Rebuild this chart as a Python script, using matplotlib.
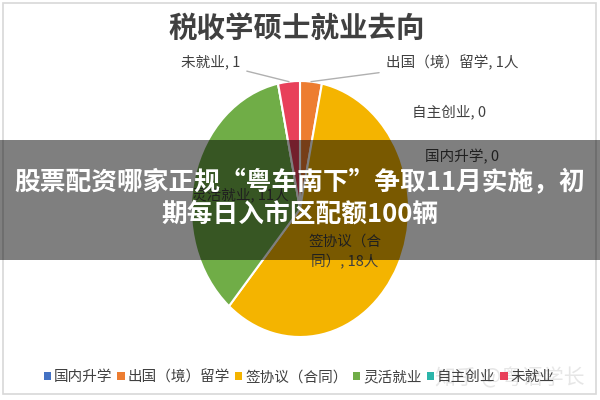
import numpy as np
import matplotlib
matplotlib.use('Agg')
import matplotlib.pyplot as plt
from matplotlib.patches import Patch, Rectangle

plt.rcParams['font.family'] = ['Noto Sans CJK SC', 'DejaVu Sans']

# data
categories = ['国内升学', '出国（境）留学', '签协议（合同）', '灵活就业', '自主创业', '未就业']
counts = [0, 1, 18, 11, 0, 1]
colors = ['#4472C4', '#ED7D31', '#F4B400', '#70AD47', '#2BB5AA', '#E8405A']
title = '税收学硕士就业去向'
banner = ['股票配资哪家正规“粤车南下”争取11月实施，初', '期每日入市区配额100辆']
watermark = '知乎 @粤语学长'

W, H = 600, 400
fig = plt.figure(figsize=(6, 4), dpi=100)
fig.patch.set_facecolor('white')

def fx(px):
    return px / W

def fy(py):
    return 1 - py / H

# pie axes, squeezed so the pie is an ellipse like the reference
ax = fig.add_axes([fx(191), fy(337), fx(218), 256 / H])
wedges, _ = ax.pie(counts, colors=colors, startangle=90, counterclock=False,
                   radius=1, wedgeprops=dict(edgecolor='white', linewidth=1.5))
ax.set_xlim(-1, 1)
ax.set_ylim(-1, 1)
ax.set_aspect('auto')
ax.axis('off')

tc = '#404040'
fig.text(fx(297), fy(30), title, ha='center', va='center', fontsize=20.5,
         fontweight='bold', color=tc)

# angles of wedge centres for leader lines
total = sum(counts)
cum = np.cumsum([0] + counts)
mid = [90 - (cum[i] + counts[i] / 2) / total * 360 for i in range(len(counts))]

def edge_pt(i):
    a = np.radians(mid[i])
    return (np.cos(a), np.sin(a))

lab_kw = dict(fontsize=10.5, color=tc)
ax.annotate('未就业, 1', xy=edge_pt(5), xycoords='data',
            xytext=(fx(240), fy(62)), textcoords='figure fraction',
            ha='right', va='center', annotation_clip=False,
            arrowprops=dict(arrowstyle='-', color='#b0b0b0', lw=1,
                            shrinkA=3, shrinkB=0), **lab_kw)
ax.annotate('出国（境）留学, 1人', xy=edge_pt(1), xycoords='data',
            xytext=(fx(386), fy(63)), textcoords='figure fraction',
            ha='left', va='center', annotation_clip=False,
            arrowprops=dict(arrowstyle='-', color='#b0b0b0', lw=1,
                            shrinkA=3, shrinkB=0), **lab_kw)
fig.text(fx(412), fy(112), '自主创业, 0', ha='left', va='center', **lab_kw)
fig.text(fx(425), fy(157), '国内升学, 0', ha='left', va='center', **lab_kw)
fig.text(fx(240), fy(195), '灵活就业, 11人', ha='center', va='center', **lab_kw)
fig.text(fx(345), fy(252), '签协议（合\n同）, 18人', ha='center', va='center',
         linespacing=1.5, **lab_kw)

# legend
handles = [Patch(facecolor=c, edgecolor='none') for c in colors]
fig.legend(handles, categories, loc='center', bbox_to_anchor=(fx(299), fy(377)),
           ncol=6, frameon=False, fontsize=10.5, handlelength=0.5,
           handleheight=0.5, handletextpad=0.2, columnspacing=0.35,
           labelcolor=tc)

fig.text(fx(585), fy(378), watermark, ha='right', va='center', fontsize=15,
         color='#e2e2e2', alpha=0.85)

# thin grey frame
fig.add_artist(Rectangle((fx(3), fy(394)), fx(593), 391 / H, transform=fig.transFigure,
                         fill=False, edgecolor='#d8d8d8', lw=1.2))

# dark banner with overlay headline
fig.add_artist(Rectangle((0, fy(260)), 1, 120 / H, transform=fig.transFigure,
                         facecolor='black', alpha=0.5, edgecolor='none', zorder=5))
fig.text(0.5, fy(183), banner[0], ha='center', va='center', fontsize=18.5,
         fontweight='bold', color='white', zorder=6)
fig.text(0.5, fy(214), banner[1], ha='center', va='center', fontsize=18.5,
         fontweight='bold', color='white', zorder=6)

fig.savefig('out.png', dpi=100)
